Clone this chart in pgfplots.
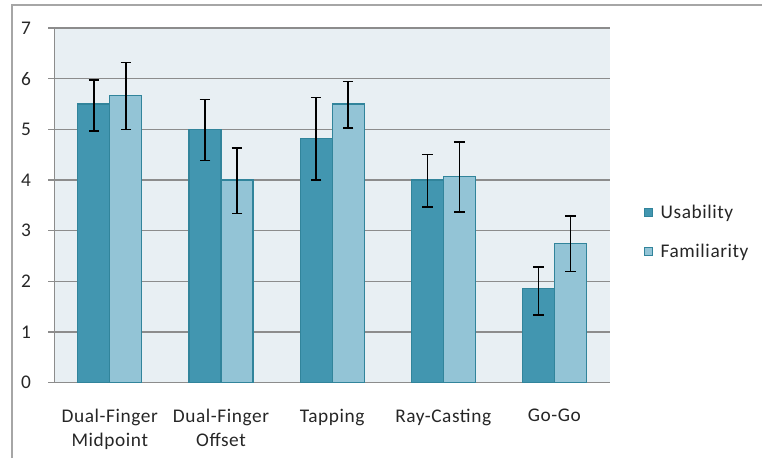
\documentclass[border=0pt]{standalone}
\usepackage{fontspec}
\setmainfont{Carlito}[LetterSpace=3]
\usepackage{pgfplots}
\pgfplotsset{compat=1.18}
\definecolor{usab}{RGB}{66,150,176}
\definecolor{famil}{RGB}{147,196,214}
\definecolor{edgec}{RGB}{49,132,155}
\definecolor{bgc}{RGB}{232,239,243}
\definecolor{gridc}{RGB}{140,140,140}
\definecolor{framec}{RGB}{166,166,166}
\begin{document}
\fontsize{14.5}{17.5}\selectfont
\begin{tikzpicture}
\path[use as bounding box] (0,0) rectangle (571.5pt,343.5pt);
\draw[framec, line width=1.5pt] (9pt,0) -- (9pt,339.75pt) -- (571.5pt,339.75pt);
\begin{axis}[
  at={(40.7pt,56.5pt)}, anchor=south west,
  scale only axis, width=416.8pt, height=266pt,
  xmin=-0.5, xmax=4.5, ymin=0, ymax=7,
  ybar=0pt, bar width=24pt,
  axis background/.style={fill=bgc},
  axis x line*=bottom, axis y line*=left,
  axis line style={gridc, line width=0.9pt},
  ytick={0,1,...,7},
  ymajorgrids, grid style={gridc, line width=0.9pt},
  xtick={0,1,2,3,4},
  xticklabels={{Dual-Finger\\Midpoint},{Dual-Finger\\Offset},Tapping,Ray-Casting,Go-Go},
  xticklabel style={align=center, anchor=north, yshift=-10pt, font=\fontsize{14.5}{18}\selectfont},
  x tick style={draw=none},
  minor xtick={-0.5,0.5,1.5,2.5,3.5,4.5},
  minor x tick style={gridc, line width=0.9pt},
  minor tick length=5pt,
  y tick style={gridc, line width=0.9pt},
  major tick length=4.5pt,
  tick align=outside,
  yticklabel style={xshift=-8pt},
  /pgf/number format/assume math mode=true,
  every tick label/.append style={text=black!85},
  legend style={at={(1.06,0.424)}, anchor=west, draw=none, fill=none,
    inner sep=0pt, row sep=13pt, font=\fontsize{14.5}{17.5}\selectfont, text=black!85,
    /tikz/every odd column/.append style={column sep=4pt}},
  legend cell align=left,
  legend image code/.code={\draw[#1, line width=0.8pt] (0pt,-3pt) rectangle (6pt,3pt);},
  error bars/error bar style={black, line width=1.1pt},
  error bars/error mark options={rotate=90, mark size=4pt, line width=1.1pt, black},
  clip=false,
]
\addplot[fill=usab, draw=edgec, line width=0.8pt,
  error bars/.cd, y dir=both, y explicit]
 coordinates {
  (0,5.50) +- (0,0.47) -= (0,0.53)
  (1,5.00) +- (0,0.59) -= (0,0.62)
  (2,4.82) +- (0,0.81) -= (0,0.82)
  (3,4.00) +- (0,0.50) -= (0,0.53)
  (4,1.85) +- (0,0.43) -= (0,0.51)
 };
\addlegendentry{Usability}
\addplot[fill=famil, draw=edgec, line width=0.8pt,
  error bars/.cd, y dir=both, y explicit]
 coordinates {
  (0,5.66) +- (0,0.66) -= (0,0.66)
  (1,4.00) +- (0,0.63) -= (0,0.66)
  (2,5.50) +- (0,0.44) -= (0,0.47)
  (3,4.07) +- (0,0.68) -= (0,0.70)
  (4,2.75) +- (0,0.54) -= (0,0.56)
 };
\addlegendentry{Familiarity}
\end{axis}
\end{tikzpicture}
\end{document}
